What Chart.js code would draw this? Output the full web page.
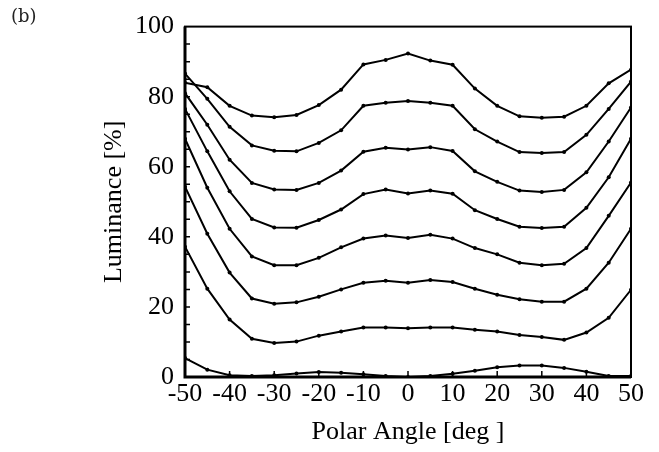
<!DOCTYPE html>
<html>
<head>
<meta charset="utf-8">
<script src="https://cdn.jsdelivr.net/npm/chart.js@4.4.0/dist/chart.umd.min.js"></script>
<style>
  html, body { margin: 0; padding: 0; background: #fff; }
  #wrap { width: 659px; height: 452px; position: relative; }
</style>
</head>
<body>
<div id="wrap"><canvas id="lum"></canvas></div>
<script>
// polar angle in degrees, one point every 5 deg
const angles = [-50, -45, -40, -35, -30, -25, -20, -15, -10, -5, 0,
                5, 10, 15, 20, 25, 30, 35, 40, 45, 50]

// luminance [%] for each gray level, top curve first
const lum1 = [84.0, 82.7, 77.4, 74.6, 74.1, 74.8, 77.6, 82.0, 89.2, 90.5, 92.3,
              90.3, 89.1, 82.3, 77.4, 74.4, 74.0, 74.3, 77.4, 83.8, 87.7]
const lum2 = [86.6, 79.4, 71.4, 66.1, 64.6, 64.4, 66.8, 70.4, 77.4, 78.3, 78.8,
              78.3, 77.4, 70.7, 67.2, 64.2, 63.9, 64.2, 69.1, 76.5, 84.3]
const lum3 = [81.0, 72.0, 62.0, 55.4, 53.5, 53.4, 55.4, 58.9, 64.3, 65.4, 64.9,
              65.6, 64.5, 58.7, 55.7, 53.2, 52.8, 53.4, 58.4, 67.2, 76.9]
const lum4 = [76.5, 64.4, 53.0, 45.1, 42.7, 42.6, 44.8, 47.8, 52.2, 53.5, 52.4,
              53.2, 52.3, 47.6, 45.1, 42.9, 42.5, 42.9, 48.3, 57.0, 68.0]
const lum5 = [68.0, 54.0, 42.3, 34.4, 31.9, 31.9, 34.0, 37.0, 39.5, 40.4, 39.7,
              40.6, 39.5, 36.8, 35.0, 32.6, 31.9, 32.3, 36.8, 46.0, 55.5]
const lum6 = [54.3, 40.9, 29.8, 22.4, 20.9, 21.3, 22.9, 25.0, 26.9, 27.5, 26.9,
              27.7, 27.1, 25.2, 23.5, 22.2, 21.5, 21.5, 25.2, 32.6, 42.3]
const lum7 = [37.2, 25.2, 16.4, 10.9, 9.7, 10.1, 11.8, 13.0, 14.1, 14.1, 13.9,
              14.1, 14.1, 13.5, 13.0, 12.0, 11.4, 10.6, 12.7, 16.9, 24.9]
const lum8 = [5.4, 2.1, 0.5, 0.3, 0.5, 1.0, 1.4, 1.2, 0.8, 0.3, 0.0,
              0.3, 0.9, 1.8, 2.8, 3.3, 3.3, 2.6, 1.5, 0.3, 0.3]

// tick marks
const xTickVals = [-40, -30, -20, -10, 0, 10, 20, 30, 40]
const yTickVals = [5, 10, 15, 20, 25, 30, 35, 40, 45, 50, 55, 60, 65, 70, 75, 80, 85, 90, 95]

const serif = "'Liberation Serif', 'Times New Roman', serif"

const allCurves = [lum1, lum2, lum3, lum4, lum5, lum6, lum7, lum8]
const datasets = allCurves.map(function (vals, i) {
    return {
        label: 'level ' + (i + 1),
        data: angles.map((a, k) => ({ x: a, y: vals[k] })),
        borderColor: '#000',
        backgroundColor: '#000',
        borderWidth: 2,
        pointRadius: 2,
        pointBorderWidth: 0,
        tension: 0,
        fill: false
    }
})

// frame, inward ticks and the panel letter
const framePlugin = {
    id: 'frame',
    afterDraw(chart) {
        const ctx = chart.ctx
        const a = chart.chartArea
        const xs = chart.scales.x
        const ys = chart.scales.y
        ctx.save()
        ctx.strokeStyle = '#000'
        ctx.lineWidth = 2
        ctx.strokeRect(a.left, a.top, a.right - a.left, a.bottom - a.top)
        // heavier left and bottom axis
        ctx.lineWidth = 3
        ctx.beginPath()
        ctx.moveTo(a.left, a.top)
        ctx.lineTo(a.left, a.bottom)
        ctx.lineTo(a.right, a.bottom)
        ctx.stroke()
        ctx.lineWidth = 1.5
        ctx.beginPath()
        xTickVals.forEach(function (v) {
            const px = xs.getPixelForValue(v)
            ctx.moveTo(px, a.bottom)
            ctx.lineTo(px, a.bottom - 6)
        })
        yTickVals.forEach(function (v) {
            const py = ys.getPixelForValue(v)
            ctx.moveTo(a.left, py)
            ctx.lineTo(a.left + 5, py)
        })
        ctx.stroke()
        ctx.fillStyle = '#222'
        ctx.font = "18px 'DejaVu Serif', serif"
        ctx.textBaseline = 'middle'
        ctx.fillText('(b)', 11, 17)
        ctx.restore()
    }
}

new Chart(document.getElementById('lum'), {
    type: 'line',
    data: { datasets: datasets },
    options: {
        responsive: true,
        maintainAspectRatio: false,
        devicePixelRatio: 1,
        animation: false,
        layout: { padding: { left: 0, top: 15, right: 28, bottom: 0 } },
        plugins: {
            legend: { display: false },
            tooltip: { enabled: false }
        },
        scales: {
            x: {
                type: 'linear',
                min: -50,
                max: 50,
                afterFit: function (s) { s.height = 75 },
                grid: { display: false, drawTicks: false },
                border: { display: false },
                ticks: {
                    stepSize: 10,
                    padding: 2,
                    color: '#000',
                    font: { family: serif, size: 26 }
                },
                title: {
                    display: true,
                    text: 'Polar Angle [deg ]',
                    color: '#000',
                    font: { family: serif, size: 26 },
                    padding: { top: 0, bottom: 4 }
                }
            },
            y: {
                min: 0,
                max: 100,
                afterFit: function (s) { s.width = 185 },
                grid: { display: false, drawTicks: false },
                border: { display: false },
                ticks: {
                    stepSize: 20,
                    padding: 11,
                    color: '#000',
                    font: { family: serif, size: 26 }
                },
                title: {
                    display: true,
                    text: 'Luminance [%]',
                    color: '#000',
                    font: { family: serif, size: 26 },
                    padding: { top: 99, bottom: 0 }
                }
            }
        }
    },
    plugins: [framePlugin]
})
</script>
</body>
</html>
